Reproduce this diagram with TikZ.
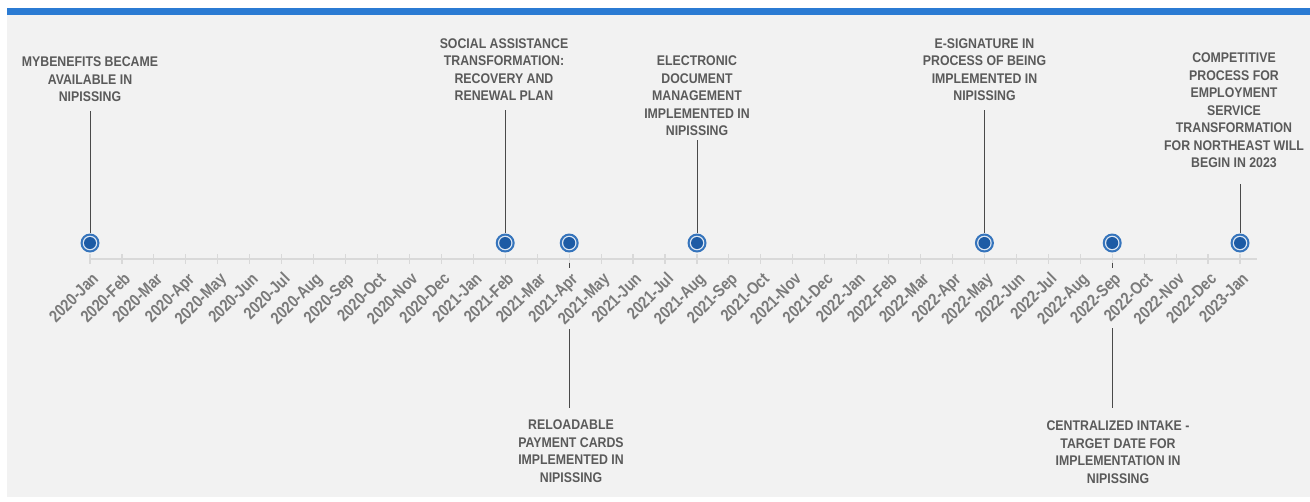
\documentclass[tikz,border=0pt]{standalone}
\usepackage{fontspec}
\newfontfamily\titlefont{Liberation Sans}[FakeStretch=0.88]
\newfontfamily\monthfont{Liberation Sans}[FakeStretch=0.84]

\definecolor{panel}{HTML}{F2F2F2}
\definecolor{topbar}{HTML}{2B7BD3}
\definecolor{axisgray}{HTML}{D9D9D9}
\definecolor{titlegray}{HTML}{5A5A5A}
\definecolor{monthgray}{HTML}{7A7A7A}
\definecolor{connector}{HTML}{4A4A4A}
\definecolor{ringblue}{HTML}{3574BC}
\definecolor{ringlight}{HTML}{DCE6F2}
\definecolor{dotblue}{HTML}{1D5BA5}

\begin{document}
\begin{tikzpicture}[x=1pt,y=-1pt,
  axisline/.style={draw=axisgray,line width=1.5pt},
  tickmark/.style={draw=axisgray,line width=1.2pt},
  month/.style={font=\monthfont\bfseries\fontsize{17}{19}\selectfont,text=monthgray,
    rotate=45,anchor=base east,inner sep=0pt},
  title/.style={font=\titlefont\bfseries\fontsize{14}{17.5}\selectfont,text=titlegray,
    align=center,inner sep=0pt},
  conn/.style={draw=connector,line width=1pt},
  marker/.style={circle,inner sep=0pt,minimum size=19pt,fill=ringblue,
    path picture={
      \fill[ringlight] (path picture bounding box.center) circle (7.3pt);
      \fill[dotblue] (path picture bounding box.center) circle (6pt);}}
]
\useasboundingbox (0,0) rectangle (1310,501);
\fill[white] (0,0) rectangle (1310,501);
\fill[panel] (7,8) rectangle (1310,497);
\fill[topbar] (7,8) rectangle (1310,15);

% time axis with monthly ticks and labels
\draw[axisline] (90,259) -- (1257,259);
\foreach \m [count=\i from 0] in {2020-Jan,2020-Feb,2020-Mar,2020-Apr,2020-May,2020-Jun,
  2020-Jul,2020-Aug,2020-Sep,2020-Oct,2020-Nov,2020-Dec,
  2021-Jan,2021-Feb,2021-Mar,2021-Apr,2021-May,2021-Jun,
  2021-Jul,2021-Aug,2021-Sep,2021-Oct,2021-Nov,2021-Dec,
  2022-Jan,2022-Feb,2022-Mar,2022-Apr,2022-May,2022-Jun,
  2022-Jul,2022-Aug,2022-Sep,2022-Oct,2022-Nov,2022-Dec,2023-Jan}{
  \pgfmathsetmacro\tx{90+\i*31.944}
  \draw[tickmark] (\tx,254) -- (\tx,264);
  \node[month] (mo\i) at (\tx+9.5,280) {\m};
}

% event markers
\node[marker] (m1) at (90,243) {};
\node[marker] (m2) at (505.2,243) {};
\node[marker] (m3) at (569.2,243) {};
\node[marker] (m4) at (697,243) {};
\node[marker] (m5) at (984.4,243) {};
\node[marker] (m6) at (1112.2,243) {};
\node[marker] (m7) at (1240,243) {};

% event descriptions above the axis
\node[title,anchor=south] (t1) at (90,102) {MYBENEFITS BECAME\\AVAILABLE IN\\NIPISSING};
\node[title,anchor=south] (t2) at (504,101) {SOCIAL ASSISTANCE\\TRANSFORMATION:\\RECOVERY AND\\RENEWAL PLAN};
\node[title,anchor=south] (t4) at (697,136) {ELECTRONIC\\DOCUMENT\\MANAGEMENT\\IMPLEMENTED IN\\NIPISSING};
\node[title,anchor=south] (t5) at (984.5,101) {E-SIGNATURE IN\\PROCESS OF BEING\\IMPLEMENTED IN\\NIPISSING};
\node[title,anchor=south] (t7) at (1234,168) {COMPETITIVE\\PROCESS FOR\\EMPLOYMENT\\SERVICE\\TRANSFORMATION\\FOR NORTHEAST WILL\\BEGIN IN 2023};

% event descriptions below the axis
\node[title,anchor=north] (t3) at (571,420) {RELOADABLE\\PAYMENT CARDS\\IMPLEMENTED IN\\NIPISSING};
\node[title,anchor=north] (t6) at (1118,421) {CENTRALIZED INTAKE -\\TARGET DATE FOR\\IMPLEMENTATION IN\\NIPISSING};

% leader lines
\draw[conn,shorten <=9pt] (m1.north |- t1.south) -- (m1.north);
\draw[conn,shorten <=9pt] (m2.north |- t2.south) -- (m2.north);
\draw[conn,shorten <=4pt] (m4.north |- t4.south) -- (m4.north);
\draw[conn,shorten <=9pt] (m5.north |- t5.south) -- (m5.north);
\draw[conn,shorten <=16pt] (m7.north |- t7.south) -- (m7.north);

\coordinate (d3) at (569.2,263);
\coordinate (c3) at (569.2,329);
\draw[conn] (d3) -- ++(0,5);
\draw[conn,shorten >=12pt] (c3) -- (c3 |- t3.north);
\coordinate (d6) at (1112.6,263);
\coordinate (c6) at (1112.6,328);
\draw[conn] (d6) -- ++(0,5);
\draw[conn,shorten >=13pt] (c6) -- (c6 |- t6.north);
\end{tikzpicture}
\end{document}
